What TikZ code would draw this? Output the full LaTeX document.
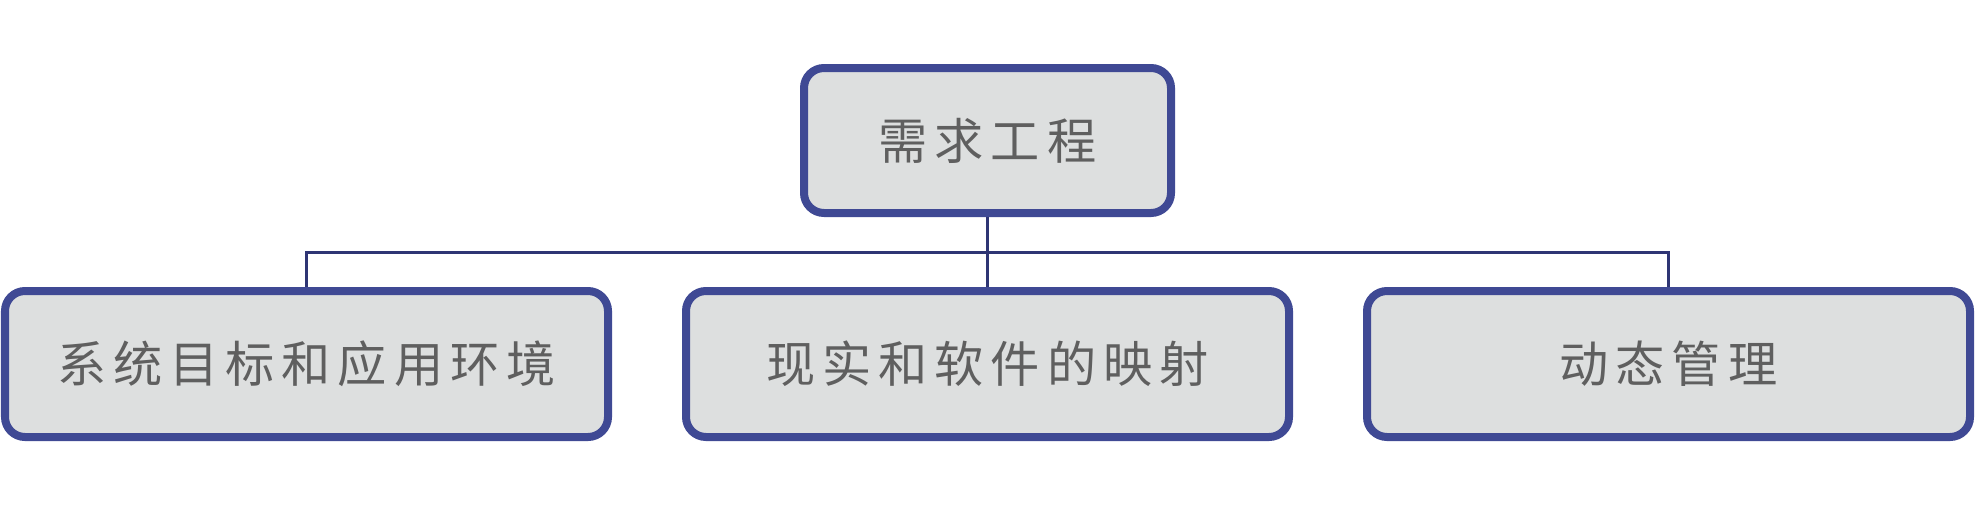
\documentclass[tikz,border=0pt]{standalone}
\usepackage{fontspec}
\newfontfamily\cjkfont{Noto Sans CJK SC}
\usepackage{tikz}
\usetikzlibrary{positioning}
\definecolor{boxline}{HTML}{3F4994}
\definecolor{boxfill}{HTML}{DDDFDF}
\definecolor{linkline}{HTML}{2F3574}
\definecolor{boxtext}{HTML}{5F5F5F}

\begin{document}
\begin{tikzpicture}[node distance=1.4cm]
    \tikzset{
        box/.style      =   { rectangle
                            , rounded corners=0.4cm
                            , draw=boxline
                            , fill=boxfill
                            , line width=0.16cm
                            , text=boxtext
                            , text centered
                            , inner sep=0pt
                            , minimum width=12.06cm
                            , minimum height=2.92cm
                            , font=\cjkfont\fontsize{28}{34}\selectfont\addfontfeature{LetterSpace=14}
                            }
        , link/.style   =   { linkline
                            , line width=0.06cm
                            }
    }
    \useasboundingbox (0,0) rectangle (39.52,-10.1);
    \node(1)[box,minimum width=7.34cm,minimum height=2.9cm] at (19.75,-2.81) {需求工程};
    \node(3)[box,below=of 1] {现实和软件的映射};
    \node(2)[box,left=of 3] {系统目标和应用环境};
    \node(4)[box,right=of 3] {动态管理};

    \draw[link] (1.south) -- ++(0,-0.7) -| (2.north);
    \draw[link] (1.south) -- (3.north);
    \draw[link] (1.south) -- ++(0,-0.7) -| (4.north);
\end{tikzpicture}
\end{document}
